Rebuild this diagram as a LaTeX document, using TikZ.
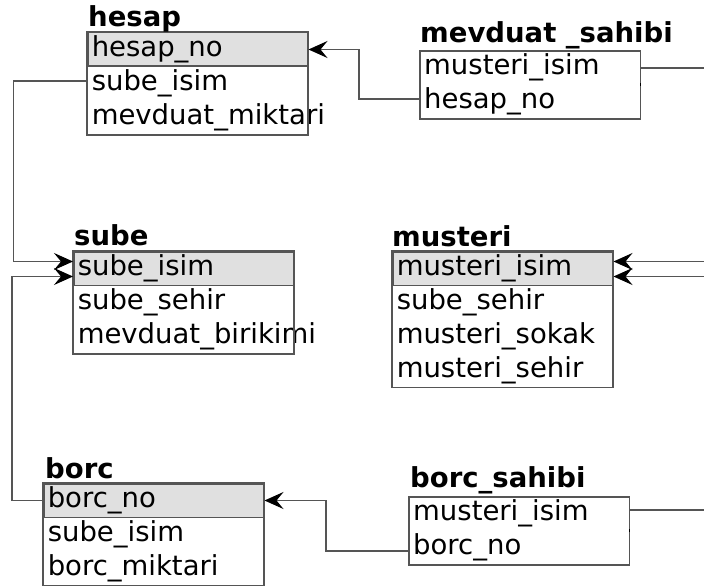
\documentclass[tikz,border=0pt]{standalone}
\usepackage{fontspec}
\setmainfont{DejaVu Sans}
\usetikzlibrary{arrows.meta,positioning}
\definecolor{keygray}{HTML}{E0E0E0}
\definecolor{linegray}{HTML}{555555}
\tikzset{
  field/.style={anchor=north west, text width=212pt, inner xsep=4pt, inner ysep=0pt,
    minimum height=33.5pt, text height=20pt, text depth=6pt, align=left,
    font=\fontsize{27.5}{32}\selectfont, execute at begin node={\hyphenpenalty 10000\relax}},
  keyrow/.style={fill=keygray, draw=linegray, line width=1.5pt},
  tabletitle/.style={anchor=base west, inner sep=0pt, font=\bfseries\fontsize{27.5}{32}\selectfont},
  tablebox/.style={draw=linegray, line width=1.5pt},
  link/.style={draw=linegray, line width=1.5pt},
  fk/.style={link, -{Stealth[length=19pt,width=17pt,inset=7pt,black]}}
}
\begin{document}
\begin{tikzpicture}[x=1pt,y=-1pt]
\useasboundingbox (0,0) rectangle (704,586);

% hesap
\node[field, keyrow] (hesap no) at (87,32) {hesap\_no};
\node[field, below=0pt of hesap no] (hesap sube) {sube\_isim};
\node[field, below=0pt of hesap sube] (hesap miktar) {mevduat\_miktari};
\draw[tablebox] (hesap no.north west) rectangle (hesap miktar.south east);
\node[tabletitle] at ([shift={(1,-5)}]hesap no.north west) {hesap};

% mevduat_sahibi
\node[field] (ms musteri) at (420,51) {musteri\_isim};
\node[field, below=0pt of ms musteri] (ms hesap) {hesap\_no};
\draw[tablebox] (ms musteri.north west) rectangle (ms hesap.south east);
\node[tabletitle] at ([shift={(0,-8)}]ms musteri.north west) {mevduat \_sahibi};
\draw[black, line width=1.5pt] ([yshift=1.5pt]ms musteri.south east) -- ([yshift=-1.5pt]ms musteri.south east);

% sube
\node[field, keyrow] (sube isim) at (73,251) {sube\_isim};
\node[field, below=0pt of sube isim] (sube sehir) {sube\_sehir};
\node[field, below=0pt of sube sehir] (sube birikim) {mevduat\_birikimi};
\draw[tablebox] (sube isim.north west) rectangle (sube birikim.south east);
\node[tabletitle] at ([shift={(1,-6)}]sube isim.north west) {sube};

% musteri
\node[field, keyrow] (musteri isim) at (392,251) {musteri\_isim};
\node[field, below=0pt of musteri isim] (musteri sube) {sube\_sehir};
\node[field, below=0pt of musteri sube] (musteri sokak) {musteri\_sokak};
\node[field, below=0pt of musteri sokak] (musteri sehir) {musteri\_sehir};
\draw[tablebox] (musteri isim.north west) rectangle (musteri sehir.south east);
\node[tabletitle] at ([shift={(0,-5)}]musteri isim.north west) {musteri};

% borc
\node[field, keyrow] (borc no) at (43,483) {borc\_no};
\node[field, below=0pt of borc no] (borc sube) {sube\_isim};
\node[field, below=0pt of borc sube] (borc miktar) {borc\_miktari};
\draw[tablebox] (borc no.north west) rectangle (borc miktar.south east);
\node[tabletitle] at ([shift={(2,-5)}]borc no.north west) {borc};

% borc_sahibi
\node[field] (bs musteri) at (409,497) {musteri\_isim};
\node[field, below=0pt of bs musteri] (bs borc) {borc\_no};
\draw[tablebox] (bs musteri.north west) rectangle (bs borc.south east);
\node[tabletitle] at ([shift={(1,-10)}]bs musteri.north west) {borc\_sahibi};
\draw[black, line width=1.5pt] ([yshift=1.5pt]bs musteri.south east) -- ([yshift=-1.5pt]bs musteri.south east);

% foreign keys
\draw[fk] ([yshift=3pt]ms hesap.west) -- ++(-61,0) |- (hesap no.east);
\draw[fk] ([yshift=3pt]hesap sube.west) -- ++(-74,0) |- ([yshift=7pt]sube isim.west);
\draw[fk] (borc no.west) -- ++(-31,0) |- ([yshift=-8pt]sube isim.west);
\draw[fk] ([yshift=-3pt]bs borc.west) -- ++(-83,0) |- (borc no.east);

% lines leaving the page on the right
\coordinate (right edge) at (704,0);
\draw[link] (ms musteri.east) -- (ms musteri.east -| right edge);
\draw[link] ([yshift=4pt]bs musteri.east) -- ++(80,0);
\draw[fk] ([yshift=7pt]musteri isim.east -| right edge) -- ([yshift=7pt]musteri isim.east);
\draw[fk] ([yshift=-8pt]musteri isim.east -| right edge) -- ([yshift=-8pt]musteri isim.east);

\end{tikzpicture}
\end{document}
